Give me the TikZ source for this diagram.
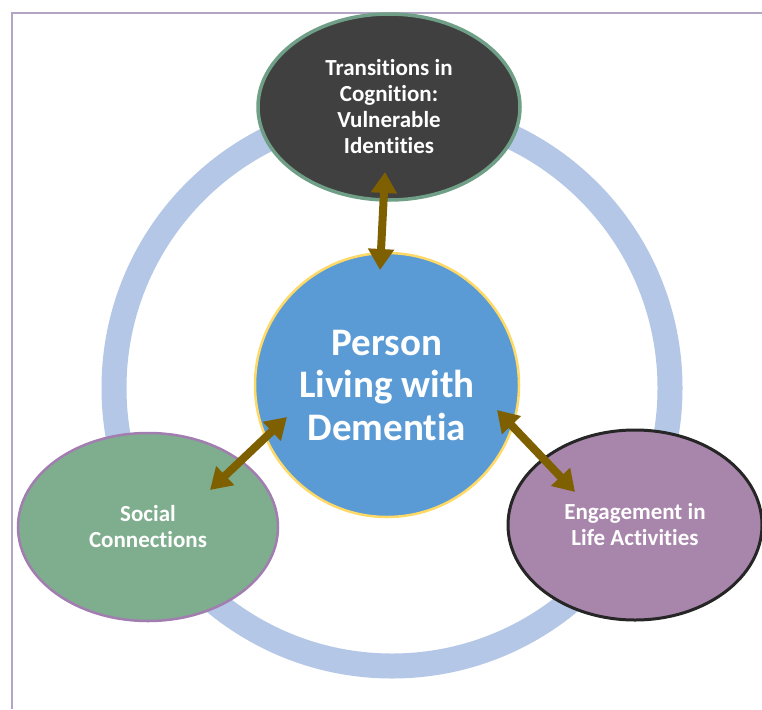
\documentclass[tikz,border=0pt]{standalone}
\usepackage{fontspec}
\setmainfont{Carlito}[Ligatures=NoCommon]
\usetikzlibrary{arrows.meta,shapes.geometric}
\definecolor{ringblue}{HTML}{B4C7E7}
\definecolor{ctrblue}{HTML}{5B9BD5}
\definecolor{goldline}{HTML}{FFD966}
\definecolor{cogfill}{HTML}{404040}
\definecolor{cogborder}{HTML}{6F9F86}
\definecolor{socialfill}{HTML}{7FAE8E}
\definecolor{socialborder}{HTML}{A17DB0}
\definecolor{engfill}{HTML}{A885AB}
\definecolor{engborder}{HTML}{262626}
\definecolor{arrowbrown}{HTML}{7F6000}
\definecolor{framecol}{HTML}{B3A6C4}
\tikzset{
  oval/.style={ellipse, inner sep=0pt, minimum width=262pt, minimum height=186pt,
    text=white, align=center, font=\bfseries\fontsize{23}{26}\selectfont},
  hub/.style={circle, inner sep=0pt, minimum size=264pt, fill=ctrblue, draw=goldline,
    line width=2.5pt, text=white, align=center, font=\bfseries\fontsize{39}{42.5}\selectfont},
  link/.style={draw=arrowbrown, line width=8pt,
    {Triangle[width=25pt,length=21pt]}-{Triangle[width=25pt,length=21pt]}}
}
\begin{document}
\begin{tikzpicture}[x=1pt,y=-1pt]
\useasboundingbox (0,0) rectangle (762,709);
\fill[white] (0,0) rectangle (762,709);
\draw[framecol, line width=2.5pt] (12,709) -- (12,13) -- (762,13);
\draw[ringblue, line width=25pt] (392,388) circle (278);

\node[oval, fill=cogfill, draw=cogborder, line width=3.5pt] (cog) at (389,107)
  {Transitions in\\Cognition:\\Vulnerable\\Identities};
\node[oval, fill=socialfill, draw=socialborder, line width=2.5pt, minimum width=260pt, minimum height=188pt] (social) at (148,527)
  {Social\\Connections};
\node[oval, fill=engfill, draw=engborder, line width=3pt, minimum width=254pt, minimum height=190pt] (eng) at (635,525)
  {Engagement in\\Life Activities};
\node[hub] (person) at (387,385) {Person\\Living with\\Dementia};

\coordinate (cogTip) at (385,172);
\coordinate (personTop) at (380,270);
\coordinate (socialTip) at (210,490);
\coordinate (personLeft) at (287,417);
\coordinate (personRight) at (497,410);
\coordinate (engTip) at (575,492);

\draw[link] (cogTip) -- (personTop);
\draw[link] (socialTip) -- (personLeft);
\draw[link] (personRight) -- (engTip);
\end{tikzpicture}
\end{document}
